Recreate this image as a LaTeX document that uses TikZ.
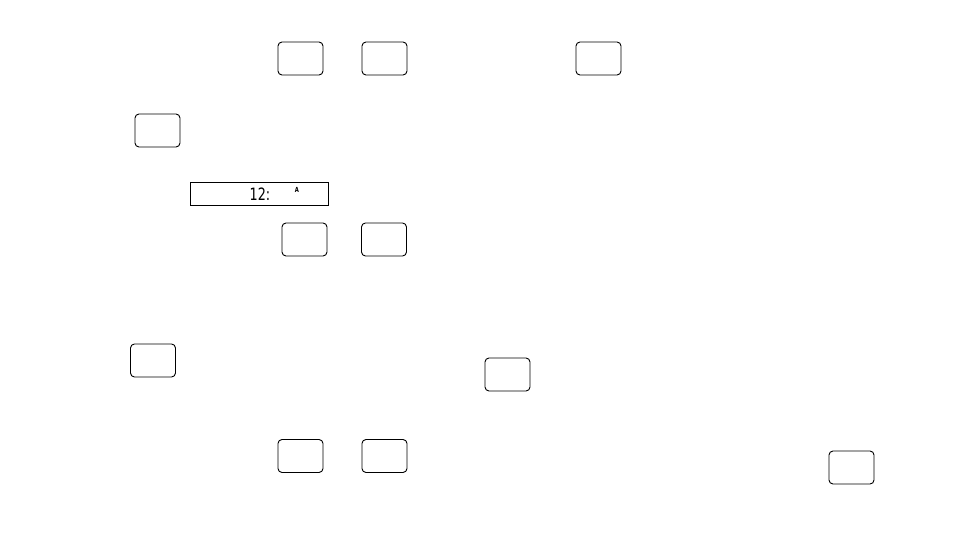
\documentclass[tikz,border=0pt]{standalone}
\usepackage{fontspec}
\newfontfamily\segfont[FakeStretch=0.75]{DejaVu Sans}
\begin{document}
\begin{tikzpicture}[x=1pt,y=-1pt,
  key/.style={draw=black,line width=0.9pt,rounded corners=4pt,minimum width=45pt,minimum height=33pt,inner sep=0pt},
  lcd/.style={draw=black,line width=0.8pt,minimum width=138pt,minimum height=23pt,inner sep=0pt}]
\useasboundingbox (0,0) rectangle (954,551);
\node[key] (ka) at (300.5,58.5) {};
\node[key] (kb) at (384.5,58.5) {};
\node[key] (kc) at (598.5,58.5) {};
\node[key] (kd) at (157.5,130.5) {};
\node[lcd] (disp) at (259,193.5) {};
\node[font=\segfont\fontsize{17}{17}\selectfont,inner sep=0pt] (t12) at (260,194) {12:};
\node[font=\segfont\bfseries\fontsize{7}{7}\selectfont,inner sep=0pt] (ta) at (297,189.5) {A};
\node[key] (ke) at (304.5,239.5) {};
\node[key] (kf) at (384,239.5) {};
\node[key] (kg) at (153,360.5) {};
\node[key] (kh) at (507.5,374.5) {};
\node[key] (ki) at (300.5,456) {};
\node[key] (kj) at (384.5,456) {};
\node[key] (kk) at (851.5,467.5) {};
\end{tikzpicture}
\end{document}
